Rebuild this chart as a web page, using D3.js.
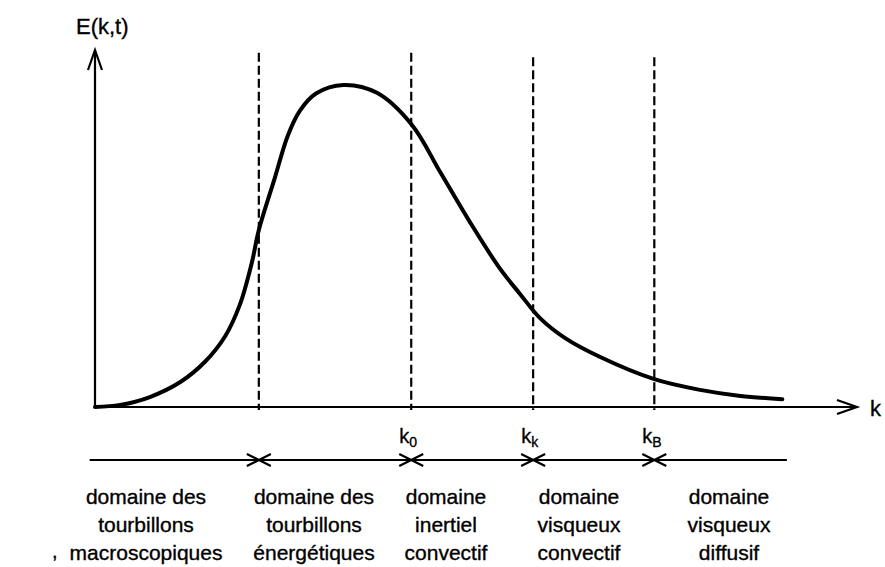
<!DOCTYPE html>
<html>
<head>
<meta charset="utf-8">
<script src="https://cdn.jsdelivr.net/npm/d3@7"></script>
<style>
  body{margin:0;background:#fff;}
  text{font-family:"Liberation Sans",Arial,sans-serif;fill:#000;stroke:#000;stroke-width:0.35px;}
</style>
</head>
<body>
<div class="chart"></div>
<script>
// courbe E(k,t) (k et E en unités arbitraires 0..100)
const kValues=[0,3.3,7.2,11.2,14.4,17.1,19.0,20.6,21.5,23.6,25.3,26.9,29.0,32.6,37.0,41.6,45.3,49.2,53.1,55.8,58.4,61.7,66.3,73.4,79.4,84.7,90.2];
const eValues=[0,0.6,2.8,7.0,12.6,19.9,28.6,40.6,49.6,64.2,76.0,83.0,87.8,90.2,88.0,79.0,65.8,51.8,38.9,31.6,24.9,19.3,14.0,7.8,4.8,3.1,2.2];

// limites des domaines
const boundaryK=[21.5,41.5,57.5,73.4];
const boundaryLabels=[null,'0','k','B'];
const domainLabels=[
    ['domaine des','tourbillons','macroscopiques'],
    ['domaine des','tourbillons','énergétiques'],
    ['domaine','inertiel','convectif'],
    ['domaine','visqueux','convectif'],
    ['domaine','visqueux','diffusif']
];

const svg_width=885, svg_height=567;
const svg=d3.select('.chart').append('svg')
    .attr('width',svg_width).attr('height',svg_height);

const xScale=d3.scaleLinear().domain([0,100]).range([95,857]);
const yScale=d3.scaleLinear().domain([0,100]).range([407,50]);

const curveData=kValues.map((k,i)=>({k:k,e:eValues[i]}));

//axes (flèches ouvertes)
const axes=svg.append('g').attr('stroke','#000').attr('fill','none').attr('stroke-width',2.2);
axes.append('line').attr('x1',xScale(0)).attr('y1',yScale(0)).attr('x2',xScale(0)).attr('y2',yScale(100)+1);
axes.append('path').attr('d',`M${xScale(0)-7},${yScale(100)+20}L${xScale(0)},${yScale(100)}L${xScale(0)+7},${yScale(100)+20}`);
axes.append('line').attr('x1',xScale(0)).attr('y1',yScale(0)).attr('x2',xScale(100)-1).attr('y2',yScale(0));
axes.append('path').attr('d',`M${xScale(100)-20},${yScale(0)-7}L${xScale(100)},${yScale(0)}L${xScale(100)-20},${yScale(0)+7}`);

svg.append('text').attr('x',76).attr('y',34).style('font-size','22px').text('E(k,t)');
svg.append('text').attr('x',870).attr('y',416).style('font-size','22px').text('k');

//lignes pointillées
svg.append('g').selectAll('line').data(boundaryK).join('line')
    .attr('x1',d=>xScale(d)).attr('x2',d=>xScale(d))
    .attr('y1',(d,i)=>i<2?yScale(99.2):yScale(98))
    .attr('y2',yScale(0)+3)
    .attr('stroke','#000').attr('stroke-width',2.2)
    .attr('stroke-dasharray','9,4');

//courbe
const line=d3.line().x(d=>xScale(d.k)).y(d=>yScale(d.e)).curve(d3.curveCatmullRom.alpha(0.5));
svg.append('path').datum(curveData)
    .attr('d',line)
    .attr('fill','none').attr('stroke','#000').attr('stroke-width',4)
    .attr('stroke-linecap','round');

//labels k0, kk, kB
const kLab=svg.append('g').selectAll('text').data(boundaryK.slice(1)).join('text')
    .attr('x',d=>xScale(d)-12).attr('y',443)
    .style('font-size','20px');
kLab.append('tspan').text('k');
kLab.append('tspan').attr('dy',4).style('font-size','14px').text((d,i)=>boundaryLabels[i+1]);

//ligne des domaines avec croix
const lineY=460;
svg.append('line').attr('x1',xScale(-0.7)).attr('x2',xScale(90.8))
    .attr('y1',lineY).attr('y2',lineY)
    .attr('stroke','#000').attr('stroke-width',2.2);
svg.append('g').selectAll('path').data(boundaryK).join('path')
    .attr('d',d=>{const x=xScale(d);return `M${x-12},${lineY-6}L${x+12},${lineY+6}M${x-12},${lineY+6}L${x+12},${lineY-6}`;})
    .attr('stroke','#000').attr('stroke-width',2.2).attr('fill','none');

//textes des domaines
const colX=[146,314,446,579,729];
const cols=svg.append('g').selectAll('text').data(domainLabels).join('text')
    .attr('text-anchor','middle').style('font-size','21px')
    .attr('x',(d,i)=>colX[i]);
cols.selectAll('tspan').data(d=>d).join('tspan')
    .attr('x',function(){return d3.select(this.parentNode).attr('x');})
    .attr('y',(d,i)=>504+i*28)
    .text(d=>d);

svg.append('text').attr('x',52).attr('y',558).style('font-size','20px').text(',');
</script>
</body>
</html>
